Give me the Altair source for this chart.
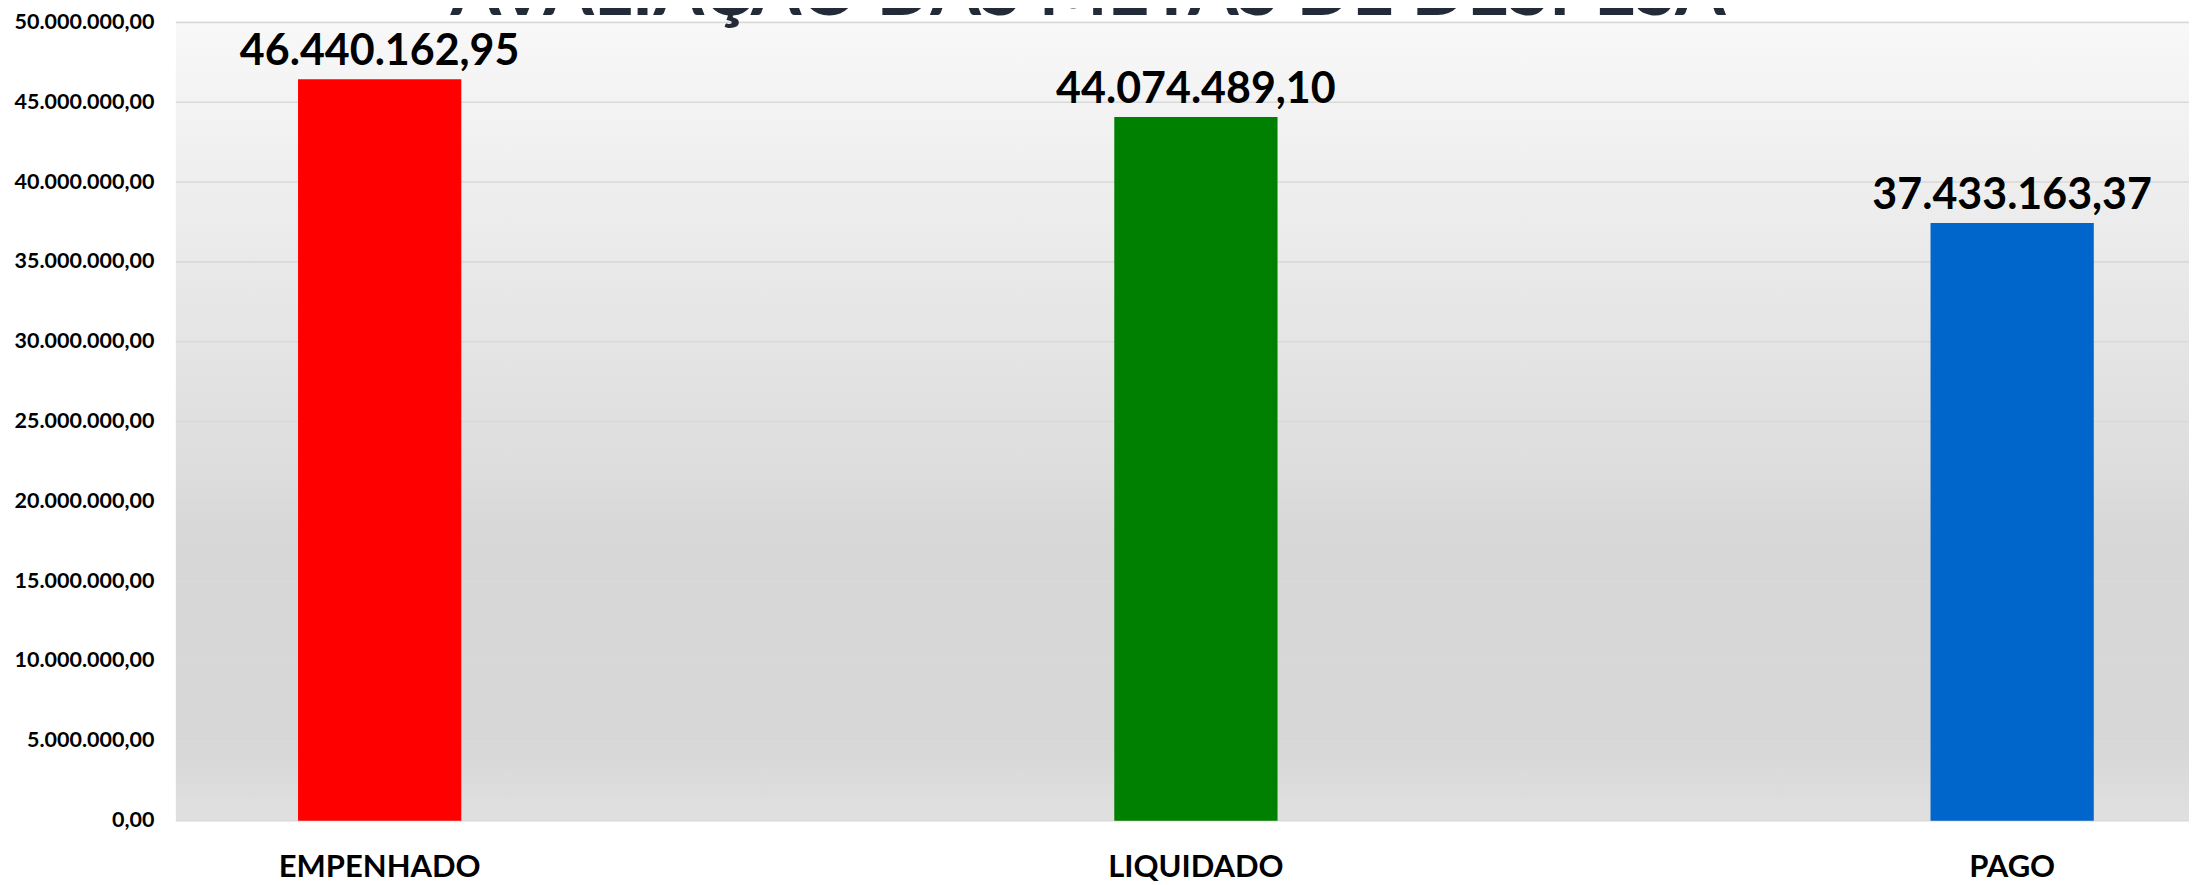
import altair as alt
import pandas as pd

TITLE = "AVALIAÇÃO DAS METAS DE DESPESA"
categories = ["EMPENHADO", "LIQUIDADO", "PAGO"]
values = [46440162.95, 44074489.10, 37433163.37]
colors = ["#ff0000", "#008000", "#0066cc"]
y_ticks = [0, 5000000, 10000000, 15000000, 20000000, 25000000,
           30000000, 35000000, 40000000, 45000000, 50000000]

W = 2015
H = 799
STEP = 817
R0 = -204.5

df = pd.DataFrame({"cat": categories, "val": values, "col": colors})
grid_df = pd.DataFrame({"v": y_ticks})

FONT = "Lato"

xscale = alt.Scale(domain=categories, range=[R0, R0 + 3 * STEP],
                   paddingInner=0.8, paddingOuter=0.4)
yscale = alt.Scale(domain=[0, 50000000], nice=False)

bg = alt.Chart(pd.DataFrame({"a": [0]})).mark_rect(
    fill=alt.LinearGradient(
        gradient="linear", x1=0, y1=0, x2=0, y2=1,
        stops=[
            alt.GradientStop(offset=0, color="#f8f8f8"),
            alt.GradientStop(offset=0.58, color="#dcdcdc"),
            alt.GradientStop(offset=0.65, color="#d7d7d7"),
            alt.GradientStop(offset=0.9, color="#d7d7d7"),
            alt.GradientStop(offset=1, color="#e0e0e0"),
        ],
    )
).encode(x=alt.value(0), x2=alt.value(W), y=alt.value(0), y2=alt.value(H))

grid = alt.Chart(grid_df).mark_rule(color="#d9d9d9", strokeWidth=1.6).encode(
    y=alt.Y("v:Q", scale=yscale, axis=alt.Axis(
        values=y_ticks, format=",.2f", grid=False, domain=False, ticks=False,
        tickSize=0, labelPadding=22, labelFont=FONT, labelFontSize=21.5,
        labelFontWeight="bold", labelColor="#000000", labelLimit=0,
        title=None)),
    x=alt.value(0), x2=alt.value(W),
)

bars = alt.Chart(df).mark_bar().encode(
    x=alt.X("cat:N", scale=xscale, sort=categories, axis=alt.Axis(
        title=None, domain=False, ticks=False, tickSize=0, labelAngle=0,
        labelPadding=56, labelBaseline="alphabetic", labelFont=FONT,
        labelFontSize=31, labelFontWeight="bold", labelColor="#000000",
        labelLimit=0, grid=False)),
    y=alt.Y("val:Q", scale=yscale),
    color=alt.Color("col:N", scale=None),
)

labels = alt.Chart(df).mark_text(
    baseline="alphabetic", dy=-14, font=FONT, fontSize=43,
    fontWeight="bold", color="#000000",
).encode(
    x=alt.X("cat:N", scale=xscale, sort=categories),
    y=alt.Y("val:Q", scale=yscale),
    text=alt.Text("val:Q", format=",.2f"),
)

title = alt.Chart(pd.DataFrame({"t": [TITLE]})).mark_text(
    baseline="alphabetic", align="center", font=FONT, fontSize=73,
    fontWeight="bold", color="#232b38",
).encode(text="t:N", x=alt.value(913), y=alt.value(-7))

chart = alt.layer(bg, grid, bars, labels, title).properties(
    width=W, height=H,
    autosize=alt.AutoSizeParams(type="none"),
    padding={"left": 168, "top": 14, "right": 0, "bottom": 62},
).configure(
    locale=alt.Locale(number=alt.NumberLocale(
        decimal=",", thousands=".", grouping=[3], currency=["R$ ", ""])),
).configure_view(stroke=None)

chart.save("out.html", embed_options={"renderer": "svg", "actions": False})
